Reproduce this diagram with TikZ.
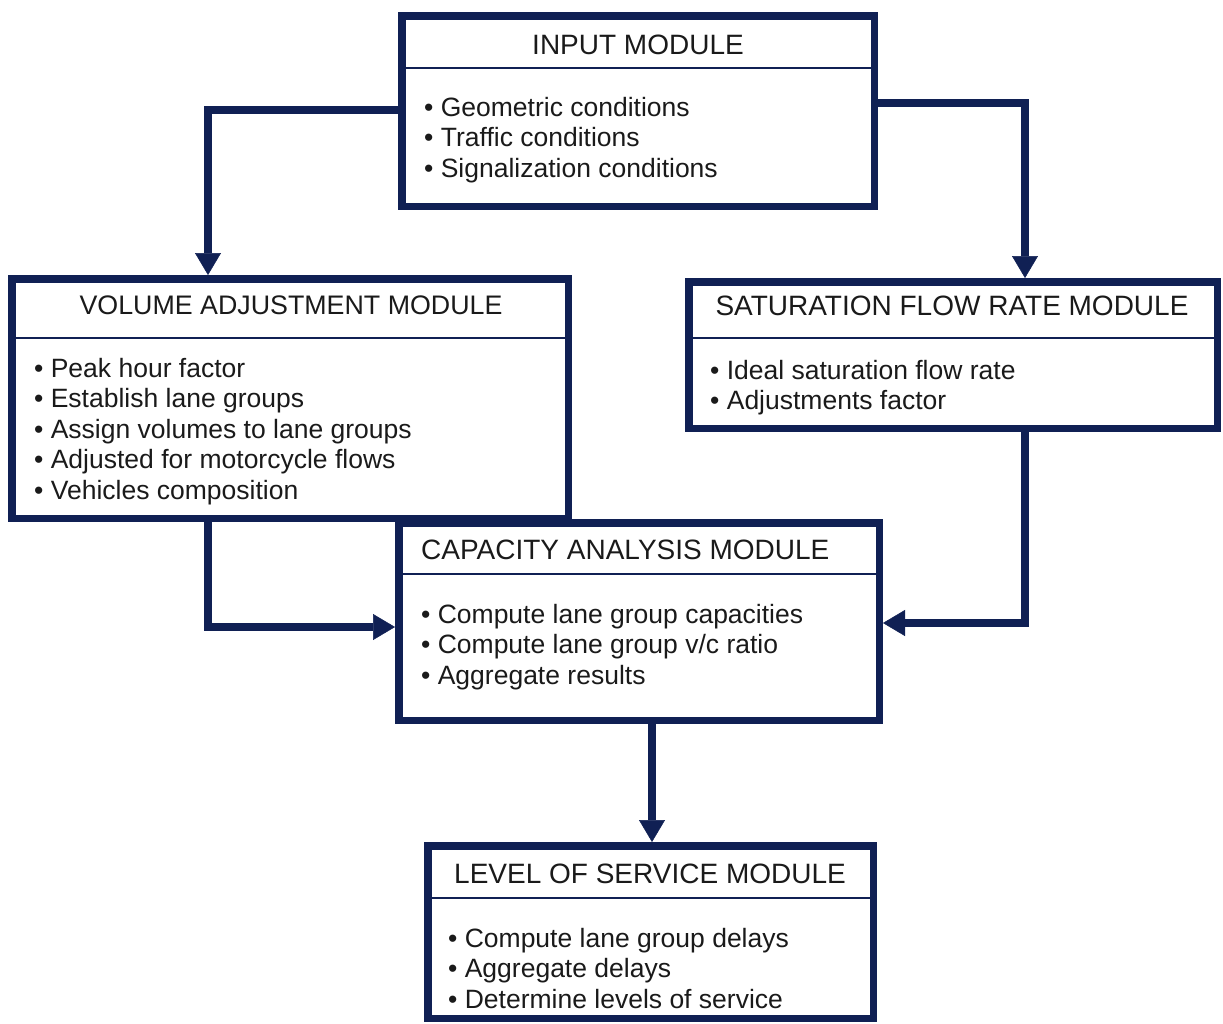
\documentclass[tikz,border=0pt]{standalone}
\usepackage{fontspec}
\setmainfont{Liberation Sans}
\usetikzlibrary{arrows.meta}
\definecolor{navy}{RGB}{16,32,84}
\definecolor{ink}{RGB}{26,26,26}
\begin{document}
\begin{tikzpicture}[x=1pt,y=-1pt,
  module/.style={draw=navy, line width=7.5pt, rectangle, inner sep=0pt, anchor=north west},
  divider/.style={draw=navy, line width=2.5pt},
  title/.style={font=\fontsize{28}{32}\selectfont, text=ink, inner sep=0pt, anchor=base},
  item/.style={font=\fontsize{26.5}{30}\selectfont, text=ink, inner sep=0pt, anchor=base west},
  flow/.style={draw=navy, line width=7.5pt, -{Triangle[length=22pt,width=26pt,line width=0.5pt]}},
]
\useasboundingbox (0,0) rectangle (1223,1023);

% module boxes
\node[module, minimum width=472.5pt, minimum height=190.5pt] (in)  at (398,12)  {};
\node[module, minimum width=556.5pt, minimum height=239.5pt] (vol) at (8,275)   {};
\node[module, minimum width=528.5pt, minimum height=146.5pt] (sat) at (685,278) {};
\node[module, minimum width=480.5pt, minimum height=197.5pt] (cap) at (395,519) {};
\node[module, minimum width=445.5pt, minimum height=172.5pt] (los) at (424,842) {};

% title dividers
\draw[divider] (in.west  |- 0,68)  -- (in.east  |- 0,68);
\draw[divider] (vol.west |- 0,338) -- (vol.east |- 0,338);
\draw[divider] (sat.west |- 0,338) -- (sat.east |- 0,338);
\draw[divider] (cap.west |- 0,574) -- (cap.east |- 0,574);
\draw[divider] (los.west |- 0,898) -- (los.east |- 0,898);

% titles
\node[title] (in-t)  at (638,54)  {INPUT MODULE};
\node[title, font=\fontsize{26.8}{30}\selectfont] (vol-t) at (291,314.5) {VOLUME ADJUSTMENT MODULE};
\node[title] (sat-t) at (952,315) {SATURATION FLOW RATE MODULE};
\node[title, anchor=base west] (cap-t) at (421,559) {CAPACITY ANALYSIS MODULE};
\node[title] (los-t) at (650,883) {LEVEL OF SERVICE MODULE};

% bullet lists
\foreach \t [count=\i from 0] in {Geometric conditions, Traffic conditions, Signalization conditions}
  \node[item] (in-\i) at (424,{116+30.5*\i}) {•\ \t};
\foreach \t [count=\i from 0] in {Peak hour factor, Establish lane groups, Assign volumes to lane groups, Adjusted for motorcycle flows, Vehicles composition}
  \node[item] (vol-\i) at (34,{377+30.5*\i}) {•\ \t};
\foreach \t [count=\i from 0] in {Ideal saturation flow rate, Adjustments factor}
  \node[item] (sat-\i) at (710,{379+30.5*\i}) {•\ \t};
\foreach \t [count=\i from 0] in {Compute lane group capacities, Compute lane group v/c ratio, Aggregate results}
  \node[item] (cap-\i) at (421,{623+30.5*\i}) {•\ \t};
\foreach \t [count=\i from 0] in {Compute lane group delays, Aggregate delays, Determine levels of service}
  \node[item] (los-\i) at (448,{947+30.5*\i}) {•\ \t};

% connectors
\coordinate (j1) at (208,110);
\coordinate (j2) at (1025,103);
\coordinate (j3) at (208,627);
\coordinate (j4) at (1025,623);
\coordinate (j5) at (652,0);
\draw[flow] (in.west |- j1) -- (j1) -- (j1 |- vol.north);
\draw[flow] (in.east |- j2) -- (j2) -- (j2 |- sat.north);
\draw[flow] (j3 |- vol.south) -- (j3) -- (j3 -| cap.west);
\draw[flow] (j4 |- sat.south) -- (j4) -- (j4 -| cap.east);
\draw[flow] (j5 |- cap.south) -- (j5 |- los.north);
\end{tikzpicture}
\end{document}
